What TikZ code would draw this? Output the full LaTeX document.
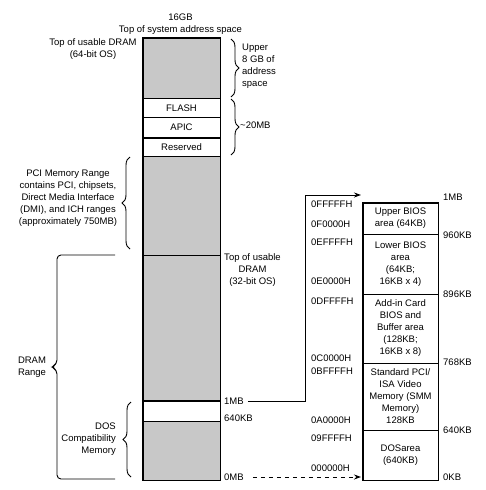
\documentclass[tikz,border=0pt]{standalone}
\usepackage{fontspec}
\setmainfont{Liberation Sans}
\usetikzlibrary{arrows.meta,decorations.pathreplacing}
\definecolor{memgray}{RGB}{200,200,200}

\begin{document}
\begin{tikzpicture}[x=1pt,y=-1pt,font=\fontsize{9.5}{12}\selectfont,
    lbl/.style={inner sep=0pt,align=center},
    seg/.style={draw,line width=0.8pt,inner sep=0pt,align=center,minimum width=77pt},
    biosseg/.style={draw,line width=0.8pt,inner sep=0pt,align=center,minimum width=75pt},
    bold/.style={line width=1.8pt},
    brc/.style={decorate,decoration={brace,amplitude=8pt},line width=0.9pt}]
    \useasboundingbox (0,0) rectangle (486,490);

    % Main address column (0MB at bottom, 16GB at top).
    \node[seg,fill=memgray,minimum height=60pt] (upper) at (181.5,68) {};
    \node[seg,minimum height=19.5pt] (flash) at (181.5,107.75) {FLASH};
    \node[seg,minimum height=20pt] (apic) at (181.5,127.5) {APIC};
    \node[seg,minimum height=18.5pt] (resv) at (181.5,146.75) {Reserved};
    \node[seg,fill=memgray,minimum height=99pt] (pci) at (181.5,205.5) {};
    \node[seg,fill=memgray,minimum height=146pt] (dram) at (181.5,328) {};
    \node[seg,minimum height=20pt] (hole) at (181.5,411) {};
    \node[seg,fill=memgray,minimum height=59pt] (dos) at (181.5,450.5) {};
    \draw[line width=1.3pt] (upper.north west) rectangle (dos.south east);
    \draw[bold] (upper.north west) -- (upper.north east);
    \draw[bold] (apic.south west) -- (apic.south east);
    \draw[bold] (hole.north west) -- (hole.north east);
    \draw[bold] (hole.south west) -- (hole.south east);

    % Labels around the main column.
    \node[lbl] (top) at (180.5,24) {16GB\\Top of system address space};
    \node[lbl] (top64) at (93,49) {Top of usable DRAM\\(64-bit OS)};
    \node[lbl,align=left,anchor=west] (up8) at (242,66) {Upper\\8 GB of\\address\\space};
    \node[lbl,anchor=west] (mb20) at (240,125) {\textasciitilde20MB};
    \node[lbl] (pcirange) at (68,198.5) {PCI Memory Range\\contains PCI, chipsets,\\Direct Media Interface\\(DMI), and ICH ranges\\(approximately 750MB)};
    \node[lbl] (top32) at (252.5,270) {Top of usable\\DRAM\\(32-bit OS)};
    \node[lbl] (dramrange) at (32,367) {DRAM\\Range};
    \node[lbl,align=right,anchor=east] (doscomp) at (116,439) {DOS\\Compatibility\\Memory};
    \node[lbl,anchor=west] (mb1) at (224,401) {1MB};
    \node[lbl,anchor=west] (kb640) at (224,418) {640KB};
    \node[lbl,anchor=west] (mb0) at (224,477) {0MB};

    % Braces.
    \draw[brc] (231,39) -- (231,97);
    \draw[brc] (231,99) -- (231,155);
    \draw[brc] (130,249) -- (130,157);
    \draw[brc] (131,477) -- (131,402);
    \draw[line width=0.9pt,rounded corners=4pt] (115,255) -- (57,255) -- (57,364) -- (51,367)
        -- (57,370) -- (57,479) -- (115,479);

    % Low 1MB detail.
    \node[biosseg,minimum height=31pt] (ubios) at (400.5,218.5) {Upper BIOS\\area (64KB)};
    \node[biosseg,minimum height=60pt] (lbios) at (400.5,264) {Lower BIOS\\area\\(64KB;\\16KB x 4)};
    \node[biosseg,minimum height=69pt] (addin) at (400.5,328.5) {Add-in Card\\BIOS and\\Buffer area\\(128KB;\\16KB x 8)};
    \node[biosseg,minimum height=67pt] (vga) at (400.5,396.5) {Standard PCI/\\ISA Video\\Memory (SMM\\Memory)\\128KB};
    \node[biosseg,minimum height=50pt] (dosarea) at (400.5,455) {DOSarea\\(640KB)};
    \draw[line width=1.1pt] (ubios.north west) rectangle (dosarea.south east);
    \draw[bold] (ubios.south west) -- (ubios.south east);
    \draw[bold] (vga.south west) -- (vga.south east);

    % Sizes to the right.
    \node[lbl,anchor=west] (r1mb) at (443,197) {1MB};
    \node[lbl,anchor=west] (r960) at (443,235) {960KB};
    \node[lbl,anchor=west] (r896) at (443,294) {896KB};
    \node[lbl,anchor=west] (r768) at (443,362) {768KB};
    \node[lbl,anchor=west] (r640) at (443,430) {640KB};
    \node[lbl,anchor=west] (r0) at (443,477) {0KB};

    % Hex addresses to the left.
    \node[lbl,anchor=west] (h1) at (311,204) {0FFFFFH};
    \node[lbl,anchor=west] (h2) at (311,224) {0F0000H};
    \node[lbl,anchor=west] (h3) at (311,242) {0EFFFFH};
    \node[lbl,anchor=west] (h4) at (311,281) {0E0000H};
    \node[lbl,anchor=west] (h5) at (311,301) {0DFFFFH};
    \node[lbl,anchor=west] (h6) at (311,358) {0C0000H};
    \node[lbl,anchor=west] (h7) at (311,371) {0BFFFFH};
    \node[lbl,anchor=west] (h8) at (311,420) {0A0000H};
    \node[lbl,anchor=west] (h9) at (311,438) {09FFFFH};
    \node[lbl,anchor=west] (h10) at (311,468) {000000H};

    % Zoom connectors.
    \coordinate (bend) at (305,195);
    \coordinate (biosin) at (361,195);
    \coordinate (dosin) at (361,477);
    \draw[line width=0.9pt,-{Stealth[length=7pt,width=5pt]},shorten <=4pt] (mb1.east) -| (bend) -- (biosin);
    \draw[line width=0.9pt,dash pattern=on 4pt off 4pt,-{Stealth[length=7pt,width=5pt]},shorten <=9pt] (mb0.east) -- (dosin);
\end{tikzpicture}
\end{document}
